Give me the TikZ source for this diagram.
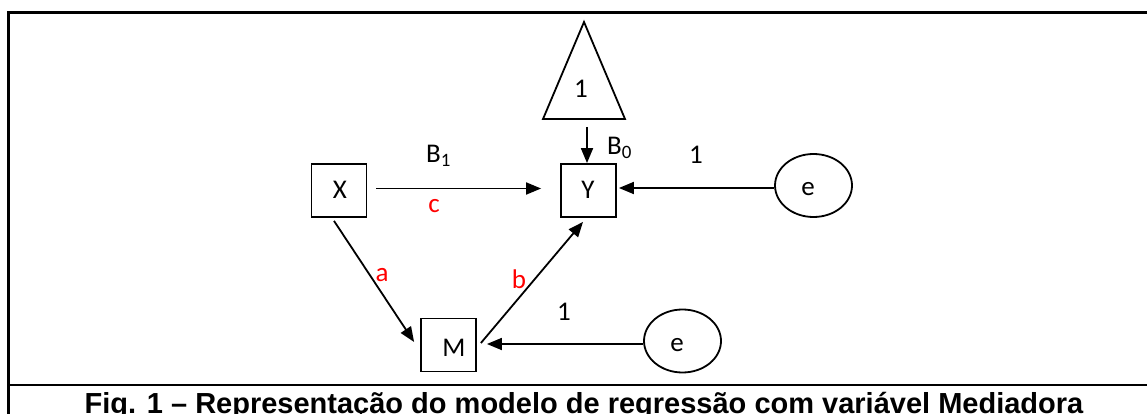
\documentclass[tikz,border=0pt]{standalone}
\usepackage{fontspec}
\setmainfont{Carlito}
\newfontfamily\capfont{Liberation Sans}
\usetikzlibrary{arrows.meta,shapes.geometric}
\definecolor{labred}{RGB}{255,0,0}
\begin{document}
\begin{tikzpicture}[x=1pt,y=-1pt,
  every node/.style={font=\fontsize{27}{31}\selectfont, inner sep=0pt},
  varbox/.style={draw, line width=1.8pt, minimum width=55pt, minimum height=53pt},
  errell/.style={draw, ellipse, line width=1.8pt, minimum width=77pt, minimum height=63pt},
  arr/.style={line width=1.8pt, -{Triangle[length=15pt,width=12pt]}},
  redlab/.style={text=labred}]
\useasboundingbox (0,0) rectangle (1147,414);
% frame
\draw[line width=3pt] (8,414) -- (8,12.5) -- (1150,12.5);
\draw[line width=2.5pt] (8,385) -- (1150,385);
% nodes
\node[varbox] (X) at (339,190.5) {};
\node at (340,190) {X};
\node[varbox] (Y) at (588.5,190.5) {};
\node at (588,190) {Y};
\node[varbox] (M) at (448.5,345) {};
\node at (454,348) {M};
\node[errell] (e1) at (813.5,185.5) {};
\node at (808,189) {e};
\node[errell] (e2) at (682.5,341) {};
\node at (677,345) {e};
\draw[line width=1.8pt, line join=miter] (543,119) -- (584,22) -- (625,119) -- cycle;
\node (tri) at (581,89) {1};
\coordinate (tb) at (587,127);
% connectors
\draw[arr] (tb) -- (tb |- Y.north);
\draw[arr] ([xshift=9pt,yshift=2pt]X.east) -- ([xshift=-19pt,yshift=2pt]Y.west);
\draw[arr] ([yshift=-2.5pt]e1.west) -- ([xshift=2pt,yshift=2.5pt]Y.east);
\draw[arr] ([yshift=-3pt]e2.west) -- ([xshift=10pt,yshift=1pt]M.east);
\draw[arr] ([xshift=-5pt,yshift=-3pt]X.south) -- ([xshift=-6pt,yshift=3pt]M.west);
\draw[arr] ([xshift=4pt,yshift=2pt]M.east) -- ([xshift=-5.5pt,yshift=-4pt]Y.south);
% labels
\node[anchor=west] (B1) at (426,156) {B\textsubscript{1}};
\node[anchor=west] (B0) at (607,148) {B\textsubscript{0}};
\node[redlab] (c) at (434,206) {c};
\node[redlab] (a) at (382,275) {a};
\node[redlab] (b) at (519,279) {b};
\node (one1) at (696,155) {1};
\node (one2) at (564,312) {1};
% caption
\node[anchor=base, font=\capfont\bfseries\fontsize{29}{34}\selectfont] (cap) at (584,413.5) {Fig. 1 – Representação do modelo de regressão com variável Mediadora};
\end{tikzpicture}
\end{document}
